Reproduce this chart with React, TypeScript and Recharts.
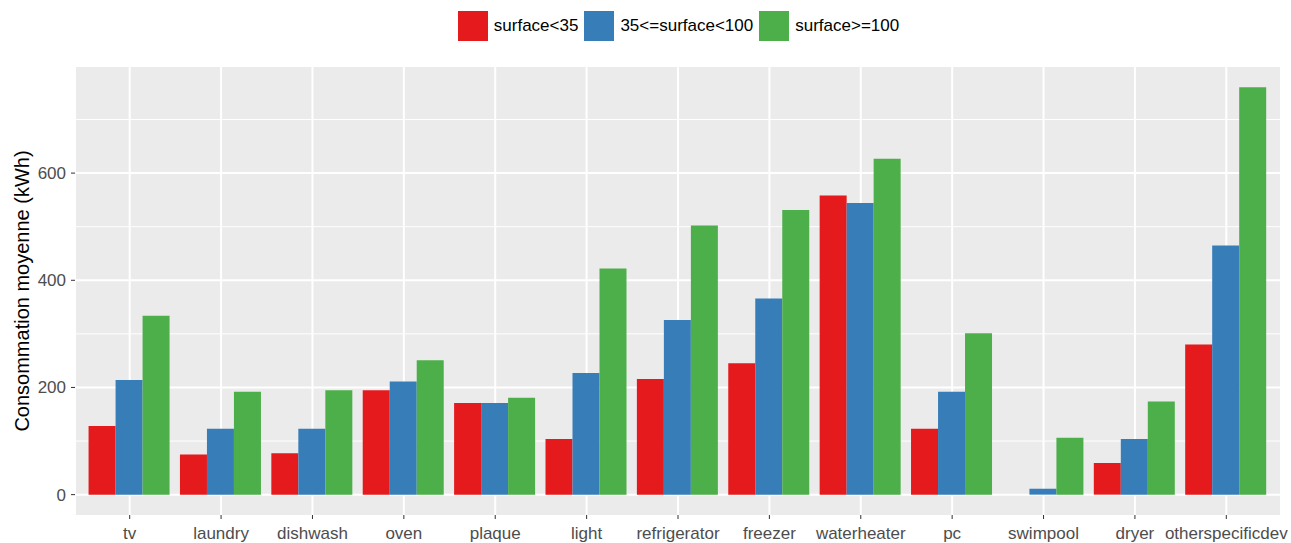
import { BarChart, Bar, XAxis, YAxis, CartesianGrid, Legend } from 'recharts';

const categories = ['tv', 'laundry', 'dishwash', 'oven', 'plaque', 'light', 'refrigerator', 'freezer', 'waterheater', 'pc', 'swimpool', 'dryer', 'otherspecificdev'];
const small = [128, 75, 77, 195, 171, 104, 216, 245, 558, 123, null, 59, 280];
const medium = [214, 123, 123, 211, 171, 227, 326, 366, 544, 192, 11, 104, 465];
const large = [334, 192, 195, 251, 181, 422, 502, 531, 627, 301, 106, 174, 760];
const yTicks = [0, 200, 400, 600];
const minorTicks = [100, 300, 500, 700];

const series = [
    { key: 'small', label: 'surface<35', color: '#E41A1C' },
    { key: 'medium', label: '35<=surface<100', color: '#377EB8' },
    { key: 'large', label: 'surface>=100', color: '#4DAF4A' },
];

const data = categories.map((name, i) => ({
    name,
    small: small[i],
    medium: medium[i],
    large: large[i],
}));

const FONT = '"Liberation Sans", Arial, sans-serif';

const LegendContent = () => (
    <div style={{ height: 56, display: 'flex', justifyContent: 'center', alignItems: 'flex-start', paddingLeft: 72, boxSizing: 'border-box', fontFamily: FONT, fontSize: 17, color: '#000' }}>
        {series.map(s => (
            <div key={s.key} style={{ display: 'flex', alignItems: 'center', height: 30, marginRight: 6 }}>
                <div style={{ width: 30, height: 30, background: s.color, marginRight: 6 }} />
                <span>{s.label}</span>
            </div>
        ))}
    </div>
);

const YTitle = (props: any) => {
    const { viewBox } = props;
    const cx = viewBox.x + 22;
    const cy = viewBox.y + viewBox.height / 2;
    return (
        <text x={cx} y={cy} transform={`rotate(-90, ${cx}, ${cy})`} textAnchor="middle" dominantBaseline="central" fontFamily={FONT} fontSize={20} fill="#000">
            Consommation moyenne (kWh)
        </text>
    );
};

export default function App() {
    return (
        <div style={{ position: 'absolute', left: 0, top: 0, width: 1291, height: 543, background: '#fff' }}>
            <BarChart
                width={1291}
                height={543}
                data={data}
                margin={{ top: 11, right: 10, bottom: 0, left: 0 }}
                barCategoryGap="5%"
                barGap={0}
            >
                <Legend
                    verticalAlign="top"
                    content={<LegendContent />}
                    wrapperStyle={{ left: 0, width: 1291, top: 11 }}
                />
                <CartesianGrid fill="#EBEBEB" stroke="#FFFFFF" strokeWidth={1} vertical={false} horizontalValues={minorTicks} />
                <CartesianGrid fill="none" stroke="#FFFFFF" strokeWidth={2} horizontalValues={yTicks} />
                <XAxis
                    dataKey="name"
                    interval={0}
                    height={28}
                    padding={{ left: 9, right: 9 }}
                    axisLine={false}
                    tickLine={{ stroke: '#333333' }}
                    tickSize={4}
                    tickMargin={8}
                    tick={{ fill: '#4D4D4D', fontSize: 17, fontFamily: FONT }}
                />
                <YAxis
                    type="number"
                    width={75}
                    domain={[-38, 798]}
                    allowDataOverflow
                    ticks={yTicks}
                    axisLine={false}
                    tickLine={{ stroke: '#333333' }}
                    tickSize={4}
                    tickMargin={5}
                    tick={{ fill: '#4D4D4D', fontSize: 17, fontFamily: FONT }}
                    label={<YTitle />}
                />
                {series.map(s => (
                    <Bar key={s.key} dataKey={s.key} name={s.label} fill={s.color} isAnimationActive={false} />
                ))}
            </BarChart>
        </div>
    );
}
